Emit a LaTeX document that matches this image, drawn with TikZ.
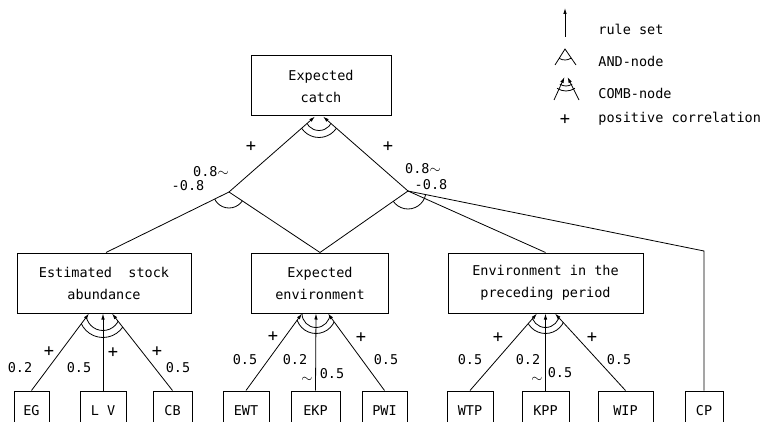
\documentclass[tikz,border=0pt]{standalone}
\usepackage{fontspec}
\setmonofont{DejaVu Sans Mono}
\usetikzlibrary{arrows.meta}

\begin{document}
\begin{tikzpicture}[x=1pt,y=1pt,
    font=\ttfamily\fontsize{13.5}{22}\selectfont, line width=0.8pt,
    box/.style={draw, line width=1pt, align=center, inner sep=0pt, minimum height=60pt},
    leaf/.style={draw, line width=1pt, inner sep=0pt, minimum height=40pt},
    rule/.style={-{Latex[length=6pt,width=3.5pt]}},
    lbl/.style={inner sep=0pt},
    plus/.style={inner sep=0pt, font=\ttfamily\fontsize{17}{17}\selectfont}]
    \useasboundingbox (0,0) rectangle (766,421);
    \clip (0,0) rectangle (766,421);

    % Goal
    \node[box, minimum width=140pt] (catch) at (321,335) {Expected\\catch};

    % Intermediate nodes
    \node[box, minimum width=174pt] (est) at (104,138) {Estimated~ stock\\abundance};
    \node[box, minimum width=137pt] (env) at (320,138) {Expected\\environment};
    \node[box, minimum width=195pt] (prec) at (545.5,138) {Environment in the\\preceding period};

    % Observed data
    \foreach \name/\x/\w/\txt in {eg/31.5/35/EG, lv/103/46/L V, cb/172.5/39/CB,
            ewt/246/46/EWT, ekp/315.5/49/EKP, pwi/384.5/45/PWI,
            wtp/470/46/WTP, kpp/545.5/47/KPP, wip/625.5/55/WIP, cp/704/38/CP} {
        \node[leaf, minimum width=\w pt] (\name) at (\x,10) {\txt};
    }

    % AND-nodes
    \coordinate (andl) at (229,229);
    \coordinate (andr) at (408,230);
    \coordinate (bend) at (cp.north |- 0,170);
    \draw ([xshift=2pt]est.north) -- (andl) -- (env.north) -- (andr) -- (prec.north);
    \draw (andr) -- (bend) -- (cp.north);
    \draw[rule] (andl) -- ([xshift=-6pt]catch.south);
    \draw[rule] (andr) -- ([xshift=2pt]catch.south);
    \begin{scope}
        \clip ([xshift=2pt]est.north) -- (andl) -- (env.north) -- cycle;
        \draw (andl) circle (16);
    \end{scope}
    \begin{scope}
        \clip (env.north) -- (andr) -- (bend) -- cycle;
        \draw (andr) circle (18);
    \end{scope}

    % COMB-node of the goal
    \begin{scope}
        \clip (andl) -- ([xshift=-6pt]catch.south) -- ([xshift=2pt]catch.south) -- (andr) -- cycle;
        \draw ([xshift=-2pt]catch.south) circle (14);
        \draw ([xshift=-2pt]catch.south) circle (21);
    \end{scope}

    % Rule sets from the data
    \foreach \src/\dst/\dx in {eg/est/-15, lv/est/-1, cb/est/8,
            ewt/env/-18, ekp/env/-4, pwi/env/8,
            wtp/prec/-8.5, kpp/prec/0, wip/prec/9.5} {
        \draw[rule] (\src.north) -- ([xshift=\dx pt]\dst.south);
    }

    % COMB-nodes of the data
    \foreach \a/\b/\n/\lx/\mx/\rx/\ri/\ro in {eg/cb/est/-15/-1/8/17/24,
            ewt/pwi/env/-18/-4/8/14/20, wtp/wip/prec/-8.5/0/9.5/14/20} {
        \begin{scope}
            \clip (\a.north) -- ([xshift=\lx pt]\n.south) -- ([xshift=\rx pt]\n.south) -- (\b.north) -- cycle;
            \draw ([xshift=\mx pt]\n.south) circle (\ri);
            \draw ([xshift=\mx pt]\n.south) circle (\ro);
        \end{scope}
    }

    % Weights
    \foreach \x/\y/\t [count=\i] in {211/249/0.8$\sim$, 188/235/-0.8, 423/252/0.8$\sim$, 431/236/-0.8,
            20/53/0.2, 79/53/0.5, 178/53/0.5,
            245/61/0.5, 295/61/0.2, 307/41/$\sim$, 332/47/0.5, 386/61/0.5,
            470/61/0.5, 528/61/0.2, 537/41/$\sim$, 560/48/0.5, 619/61/0.5} {
        \node[lbl] (w\i) at (\x,\y) {\t};
    }

    % Positive correlations
    \foreach \x/\y [count=\i] in {251/274, 388/274, 49/69, 113/68, 157/69,
            273/84, 361/83, 498/83, 592/83} {
        \node[plus] (p\i) at (\x,\y) {+};
    }

    % Legend
    \coordinate (ruletail) at (565,384);
    \coordinate (rulehead) at (565,413);
    \draw[rule] (ruletail) -- (rulehead);
    \node[lbl, anchor=west] (lrule) at (598,392) {rule set};

    \coordinate (andtop) at (565,372);
    \draw (555,356) -- (andtop) -- (576,356);
    \draw (andtop) ++(238:11) arc[start angle=238, end angle=304, radius=11];
    \node[lbl, anchor=west] (land) at (598,360) {AND-node};

    \coordinate (combtop) at (566,346);
    \draw[rule] (554,321) -- (564.5,344);
    \draw[rule] (579,321) -- (567.5,344);
    \draw (combtop) ++(236:11) arc[start angle=236, end angle=304, radius=11];
    \draw (combtop) ++(236:16) arc[start angle=236, end angle=304, radius=16];
    \node[lbl, anchor=west] (lcomb) at (598,328) {COMB-node};

    \node[plus] (lplus) at (565,301) {+};
    \node[lbl, anchor=west] (lpos) at (598,302) {positive correlation};
\end{tikzpicture}
\end{document}
